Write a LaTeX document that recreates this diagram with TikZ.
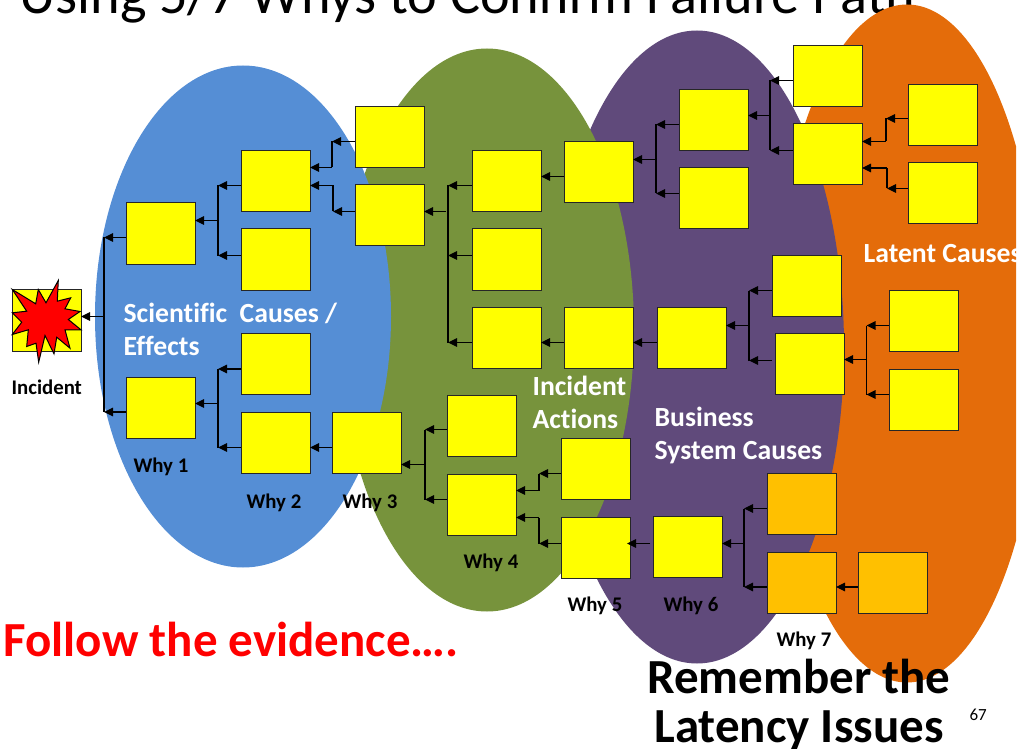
\documentclass[tikz,border=0pt]{standalone}
\usepackage{fontspec}
\usepackage{xcolor}
\usetikzlibrary{arrows.meta}
\setmainfont{Carlito}[Ligatures=NoCommon]

\definecolor{blueblob}{HTML}{558ED5}
\definecolor{greenblob}{HTML}{77933C}
\definecolor{purpleblob}{HTML}{604A7B}
\definecolor{orangeblob}{HTML}{E46C0A}
\definecolor{yellowbox}{HTML}{FFFF00}
\definecolor{amberbox}{HTML}{FFC000}
\definecolor{redtext}{HTML}{FF0000}

\tikzset{
  whybox/.style={draw=black!85, line width=1pt, fill=yellowbox, inner sep=0pt, outer sep=0pt,
                 minimum width=69pt, minimum height=61pt},
  amber/.style={whybox, fill=amberbox},
  whylabel/.style={inner sep=0pt, anchor=base west, font=\fontsize{20.8}{22}\selectfont\bfseries},
  zonelabel/.style={inner sep=0pt, anchor=base west, text=white, font=\fontsize{27.7}{33}\selectfont\bfseries},
  biglabel/.style={inner sep=0pt, font=\fontsize{49}{47}\selectfont\bfseries}
}

\begin{document}
\begin{tikzpicture}[->, >={Triangle[length=9pt,width=8.5pt]}, line width=1.2pt,
                    x=1pt, y=-1pt, node distance=78.5pt]
  \useasboundingbox (0,-0.5) rectangle (1021,748.5);

  \node[inner sep=0pt, anchor=base west, font=\fontsize{56.3}{58}\selectfont] (Title) at (19,13)
        {Using 5/7 Whys to Confirm Failure Path};

  % the four zones, back to front
  \begin{scope}
    \clip (0,0) rectangle (1016,749);
    \fill[orangeblob] (907,343) ellipse (134pt and 339pt);
    \fill[purpleblob] (697,346.5) ellipse (147pt and 316.5pt);
    \fill[greenblob]  (487,329.5) ellipse (147pt and 281.5pt);
    \fill[blueblob]   (243,316) ellipse (148pt and 251pt);
    \node[zonelabel] (Latent) at (863,262) {Latent Causes};
  \end{scope}

  % incident
  \node[whybox, minimum height=62pt] (Inc) at (46.5,320) {};
  \fill[redtext, draw=black, line width=1pt]
    (12.3,289) -- (35.7,303.3) -- (38.3,289) -- (46,302.3) -- (58.3,280) -- (57.3,300.7)
    -- (70.7,297.3) -- (65,308.3) -- (80,311) -- (68.3,319) -- (81,329.3) -- (65,329.3)
    -- (70,347.7) -- (56.7,336.7) -- (54,353.3) -- (45,335) -- (38.7,361.7) -- (36,342.7)
    -- (26.7,346) -- (28.3,329.3) -- (12.3,334) -- (21.7,321.7) -- (12.3,312.3) -- (26.7,310.7)
    -- cycle;

  % boxes
  \node[whybox] (W1a) at (160.5,233)   {};
  \node[whybox] (W1b) at (160.5,407.5) {};

  \node[whybox] (W2a) at (275.5,180.5) {};
  \node[whybox] (W2b) [below of=W2a]   {};
  \node[whybox] (W2c) at (275.5,363.5) {};
  \node[whybox] (W2d) [below of=W2c]   {};

  \node[whybox] (W3a) at (389.5,136.5) {};
  \node[whybox] (W3b) [below of=W3a]   {};
  \node[whybox] (W3c) at (366.5,442.5) {};

  \node[whybox] (W4a) at (506.5,180.5) {};
  \node[whybox] (W4b) [below of=W4a]   {};
  \node[whybox] (W4c) at (506.5,337.5) {};
  \node[whybox] (W4d) at (481.5,425.5) {};
  \node[whybox] (W4e) [below of=W4d]   {};

  \node[whybox] (W5a) at (598.5,171.5) {};
  \node[whybox] (W5b) at (598.5,337.5) {};
  \node[whybox] (W5c) at (595.5,468.5) {};
  \node[whybox] (W5d) [below of=W5c]   {};

  \node[whybox] (W6a) at (713.5,119.5) {};
  \node[whybox] (W6b) [below of=W6a]   {};
  \node[whybox] (W6c) at (691.5,337.5) {};
  \node[whybox] (W6d) at (687.5,546.5) {};

  \node[whybox] (W7a) at (827.5,75.5)  {};
  \node[whybox] (W7b) [below of=W7a]   {};
  \node[whybox] (W7c) at (806.5,285.5) {};
  \node[whybox] (W7d) at (809.5,363.5) {};
  \node[amber]  (W7e) at (801.5,503.5) {};
  \node[amber]  (W7f) [below of=W7e]   {};

  \node[whybox] (W8a) at (942.5,114.5) {};
  \node[whybox] (W8b) [below of=W8a]   {};
  \node[whybox] (W8c) at (923.5,320.5) {};
  \node[whybox] (W8d) [below of=W8c]   {};
  \node[amber]  (W8e) at (892.5,582.5) {};

  % branch points
  \coordinate (B0t) at (104,237);   \coordinate (B0) at (104,316);   \coordinate (B0b) at (104,411.5);
  \coordinate (B1t) at (218,185);   \coordinate (B1) at (218,220);   \coordinate (B1b) at (218,255);
  \coordinate (B2t) at (218,368.5); \coordinate (B2) at (218,403);   \coordinate (B2b) at (218,447);
  \coordinate (B3t) at (448,185);   \coordinate (B3m) at (448,255);  \coordinate (B3b) at (448,342);
  \coordinate (B3)  at (446,211);
  \coordinate (B4t) at (425,429);   \coordinate (B4) at (425,464);   \coordinate (B4b) at (425,499);
  \coordinate (B5t) at (656,124);   \coordinate (B5) at (656,159);   \coordinate (B5b) at (656,193);
  \coordinate (B6t) at (770,80);    \coordinate (B6) at (770,115);   \coordinate (B6b) at (770,150);
  \coordinate (B7t) at (749,290);   \coordinate (B7) at (749,325);   \coordinate (B7b) at (749,360);
  \coordinate (B8t) at (866.5,325); \coordinate (B8) at (866.5,359); \coordinate (B8b) at (866.5,394);
  \coordinate (B9t) at (744,508);   \coordinate (B9) at (744,543);   \coordinate (B9b) at (744,586.5);

  % elbows
  \coordinate (E1a) at (332,141);   \coordinate (E1b) at (332,167);
  \coordinate (E2a) at (333,211);   \coordinate (E2b) at (333,185);
  \coordinate (E3a) at (539,473);   \coordinate (E3b) at (539,490);
  \coordinate (E4a) at (539,543);   \coordinate (E4b) at (539,517);
  \coordinate (E5a) at (886,118);   \coordinate (E5b) at (886,141);
  \coordinate (E6a) at (887,188);   \coordinate (E6b) at (887,167.5);

  % free ends
  \coordinate (S7d) at (772,360);
  \coordinate (S6d) at (650,543);
  \coordinate (T5d) at (627,543);

  \draw[-] (B0t) -- (B0b);
  \draw[-] (B1t) -- (B1b);
  \draw[-] (B2t) -- (B2b);
  \draw[-] (B3t) -- (B3b);
  \draw[-] (B4t) -- (B4b);
  \draw[-] (B5t) -- (B5b);
  \draw[-] (B6t) -- (B6b);
  \draw[-] (B7t) -- (B7b);
  \draw[-] (B8t) -- (B8b);
  \draw[-] (B9t) -- (B9b);
  \draw[-] (E1a) -- (E1b);
  \draw[-] (E2a) -- (E2b);
  \draw[-] (E3a) -- (E3b);
  \draw[-] (E4a) -- (E4b);
  \draw[-] (E5a) -- (E5b);
  \draw[-] (E6a) -- (E6b);

  \path (B0) edge (B0 -| Inc.east)
        (W1a.west |- B0t) edge (B0t)
        (W1b.west |- B0b) edge (B0b)
        (B1) edge (B1 -| W1a.east)
        (W2a.west |- B1t) edge (B1t)
        (W2b.west |- B1b) edge (B1b)
        (B2) edge (B2 -| W1b.east)
        (W2c.west |- B2t) edge (B2t)
        (W2d.west |- B2b) edge (B2b)
        (W3a.west |- E1a) edge (E1a)
        (E1b) edge (E1b -| W2a.east)
        (W3b.west |- E2a) edge (E2a)
        (E2b) edge (E2b -| W2a.east)
        (W3c.west |- B2b) edge (W2d.east |- B2b)
        (B3) edge (B3 -| W3b.east)
        (W4a.west |- B3t) edge (B3t)
        (W4b.west |- B3m) edge (B3m)
        (W4c.west |- B3b) edge (B3b)
        (B4) edge (B4 -| W3c.east)
        (W4d.west |- B4t) edge (B4t)
        (W4e.west |- B4b) edge (B4b)
        ;
  \path (W5a.west |- 0,176) edge (W4a.east |- 0,176)
        (W5b.west |- B3b) edge (W4c.east |- B3b)
        (W5c.west |- E3a) edge (E3a)
        (E3b) edge (E3b -| W4e.east)
        (W5d.west |- E4a) edge (E4a)
        (E4b) edge (E4b -| W4e.east)
        (B5) edge (B5 -| W5a.east)
        (W6a.west |- B5t) edge (B5t)
        (W6b.west |- B5b) edge (B5b)
        (W6c.west |- B3b) edge (W5b.east |- B3b)
        (S6d) edge (T5d)
        (B6) edge (B6 -| W6a.east)
        (W7a.west |- B6t) edge (B6t)
        (W7b.west |- B6b) edge (B6b)
        (B7) edge (B7 -| W6c.east)
        (W7c.west |- B7t) edge (B7t)
        (S7d) edge (B7b)
        (B9) edge (B9 -| W6d.east)
        (W7e.west |- B9t) edge (B9t)
        (W7f.west |- B9b) edge (B9b)
        (B8) edge (B8 -| W7d.east)
        (W8c.west |- B8t) edge (B8t)
        (W8d.west |- B8b) edge (B8b)
        (W8a.west |- E5a) edge (E5a)
        (E5b) edge (E5b -| W7b.east)
        (W8b.west |- E6a) edge (E6a)
        (E6b) edge (E6b -| W7b.east)
        (W8e.west |- B9b) edge (W7f.east |- B9b)
        ;

  % labels
  \node[whylabel] (LInc)  at (11,394)  {Incident};
  \node[whylabel] (Why1)  at (133,472) {Why 1};
  \node[whylabel] (Why2)  at (246,508) {Why 2};
  \node[whylabel] (Why3)  at (342,508) {Why 3};
  \node[whylabel] (Why4)  at (463,568) {Why 4};
  \node[whylabel] (Why5)  at (567,611) {Why 5};
  \node[whylabel] (Why6)  at (663,611) {Why 6};
  \node[whylabel] (Why7)  at (776,646) {Why 7};

  \node[zonelabel] (Sci1)  at (123,322) {Scientific\ \ Causes /};
  \node[zonelabel] (Sci2)  at (123,355) {Effects};
  \node[zonelabel] (Act1)  at (532,395) {Incident};
  \node[zonelabel] (Act2)  at (532,428) {Actions};
  \node[zonelabel] (Bus1)  at (654,426) {Business};
  \node[zonelabel] (Bus2)  at (654,459) {System Causes};

  \node[biglabel, anchor=base west, text=redtext] (Follow) at (3,655.5) {Follow the evidence….};
  \node[biglabel, anchor=base] (Rem1) at (799,693) {Remember the};
  \node[biglabel, anchor=base] (Rem2) at (799,741.5) {Latency Issues};
  \node[inner sep=0pt, anchor=base west, font=\fontsize{17}{18}\selectfont] (Page) at (969,720) {67};
\end{tikzpicture}
\end{document}
